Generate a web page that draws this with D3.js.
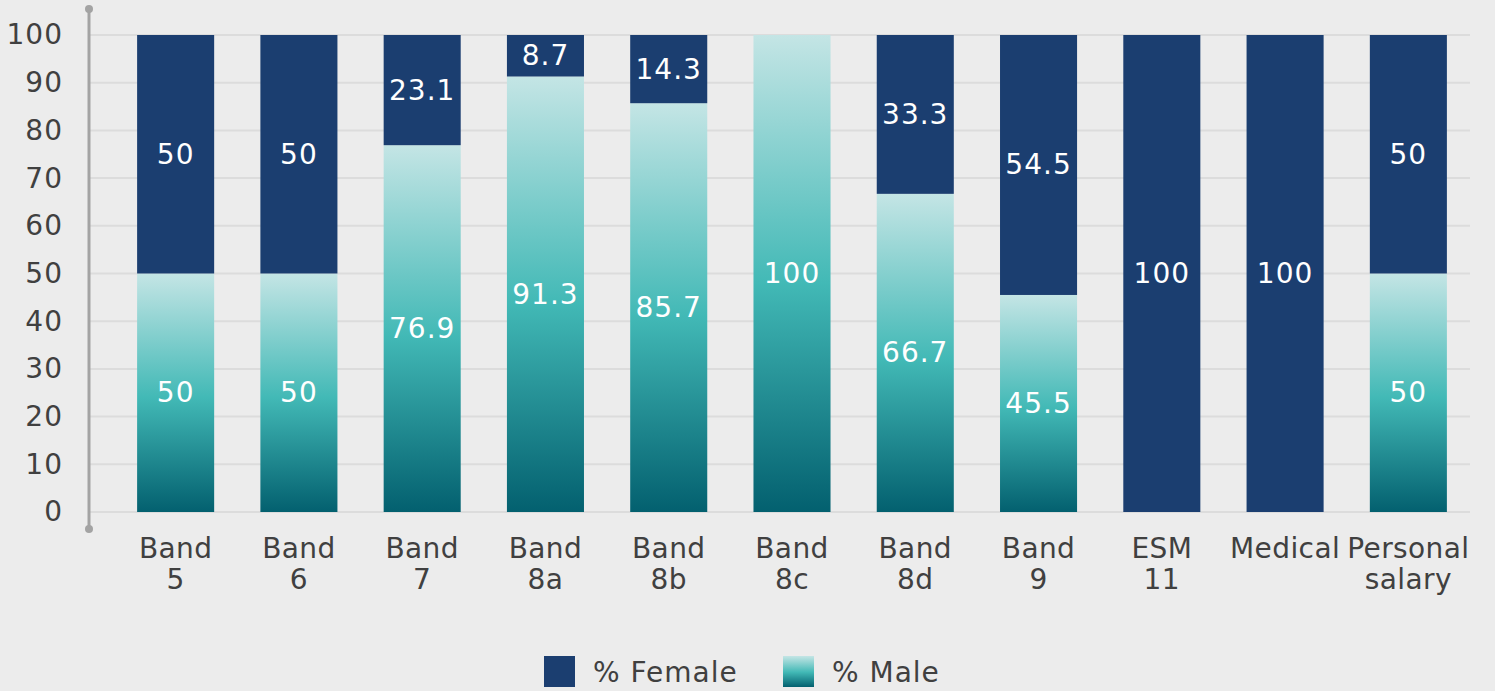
<!DOCTYPE html>
<html>
<head>
<meta charset="utf-8">
<script src="https://cdn.jsdelivr.net/npm/d3@7"></script>
<style>
  html, body { margin: 0; padding: 0; background: #ececec; }
  svg { display: block; }
  text { font-family: "DejaVu Sans", sans-serif; }
</style>
</head>
<body>
<svg id="chart" width="1495" height="691"></svg>
<script>
// Staff grades and the share of each gender within them (percent)
const categories = ["Band 5", "Band 6", "Band 7", "Band 8a", "Band 8b", "Band 8c", "Band 8d", "Band 9", "ESM 11", "Medical", "Personal salary"];
const categoryLines = [["Band", "5"], ["Band", "6"], ["Band", "7"], ["Band", "8a"], ["Band", "8b"], ["Band", "8c"], ["Band", "8d"], ["Band", "9"], ["ESM", "11"], ["Medical"], ["Personal", "salary"]];
const femaleValues = [50, 50, 23.1, 8.7, 14.3, 0, 33.3, 54.5, 100, 100, 50];
const maleValues = [50, 50, 76.9, 91.3, 85.7, 100, 66.7, 45.5, 0, 0, 50];
const yTicks = [0, 10, 20, 30, 40, 50, 60, 70, 80, 90, 100];
const seriesNames = ["% Female", "% Male"];

const svg = d3.select("#chart");
const femaleColor = "#1b3e70";
const textColor = "#404040";
const fontSize = "28px";
const spacing = "1px";

// Vertical gradient used for the male segments (per bar)
const defs = svg.append("defs");
const grad = defs.append("linearGradient")
  .attr("id", "maleGrad")
  .attr("x1", 0).attr("y1", 0).attr("x2", 0).attr("y2", 1);
[["0%", "#c4e5e5"], ["52%", "#42b9b6"], ["100%", "#03606f"]].forEach(([o, c]) =>
  grad.append("stop").attr("offset", o).attr("stop-color", c));

const x = d3.scaleBand()
  .domain(categories)
  .range([114, 1470])
  .paddingInner(0.375)
  .paddingOuter(0.1875);

const y = d3.scaleLinear().domain([0, 100]).range([512, 35]);

// Gridlines
svg.append("g")
  .selectAll("line")
  .data(yTicks)
  .join("line")
  .attr("x1", 90).attr("x2", 1470)
  .attr("y1", d => y(d)).attr("y2", d => y(d))
  .attr("stroke", "#dcdcdc")
  .attr("stroke-width", 2);

// Y axis
const yAxis = svg.append("g")
  .attr("transform", "translate(89,0)")
  .call(d3.axisLeft(y).tickValues(yTicks).tickSize(0).tickPadding(26));
yAxis.select(".domain").remove();
yAxis.selectAll("text")
  .attr("fill", textColor)
  .style("font-size", fontSize)
  .style("font-family", "'DejaVu Sans', sans-serif")
  .style("letter-spacing", spacing);

svg.append("line")
  .attr("x1", 89).attr("x2", 89).attr("y1", 9).attr("y2", 529)
  .attr("stroke", "#a3a3a3").attr("stroke-width", 3);
svg.selectAll("circle.cap")
  .data([9, 529])
  .join("circle")
  .attr("class", "cap")
  .attr("cx", 89).attr("cy", d => d).attr("r", 4)
  .attr("fill", "#a3a3a3");

// Stacked segments: male at the bottom, female above
const rows = categories.map((c, i) => ({ cat: c, male: maleValues[i], female: femaleValues[i] }));
const stack = d3.stack().keys(["male", "female"])(rows);

const fills = { male: "url(#maleGrad)", female: femaleColor };

stack.forEach(layer => {
  const g = svg.append("g");
  g.selectAll("rect")
    .data(layer.filter(d => d[1] - d[0] > 0))
    .join("rect")
    .attr("x", d => x(d.data.cat))
    .attr("width", x.bandwidth())
    .attr("y", d => y(d[1]))
    .attr("height", d => y(d[0]) - y(d[1]))
    .attr("fill", fills[layer.key]);

  g.selectAll("text")
    .data(layer.filter(d => d[1] - d[0] > 0))
    .join("text")
    .attr("x", d => x(d.data.cat) + x.bandwidth() / 2)
    .attr("y", d => (y(d[0]) + y(d[1])) / 2)
    .attr("text-anchor", "middle")
    .attr("dominant-baseline", "central")
    .attr("fill", "#ffffff")
    .style("font-size", fontSize)
    .style("letter-spacing", spacing)
    .text(d => d.data[layer.key]);
});

// Category labels
const catG = svg.append("g");
categories.forEach((c, i) => {
  const t = catG.append("text")
    .attr("x", x(c) + x.bandwidth() / 2)
    .attr("y", 558)
    .attr("text-anchor", "middle")
    .attr("fill", textColor)
    .style("font-size", fontSize)
    .style("letter-spacing", "0.4px");
  categoryLines[i].forEach((line, j) => {
    t.append("tspan")
      .attr("x", x(c) + x.bandwidth() / 2)
      .attr("dy", j === 0 ? 0 : 31)
      .text(line);
  });
});

// Legend
const legend = svg.append("g");
const legendItems = [
  { name: seriesNames[0], fill: femaleColor, x: 544 },
  { name: seriesNames[1], fill: "url(#maleGrad)", x: 783 }
];
legendItems.forEach(item => {
  legend.append("rect")
    .attr("x", item.x).attr("y", 656)
    .attr("width", 31).attr("height", 31)
    .attr("fill", item.fill);
  legend.append("text")
    .attr("x", item.x + 49).attr("y", 672)
    .attr("dominant-baseline", "central")
    .attr("fill", textColor)
    .style("font-size", fontSize)
    .style("letter-spacing", spacing)
    .text(item.name);
});
</script>
</body>
</html>
